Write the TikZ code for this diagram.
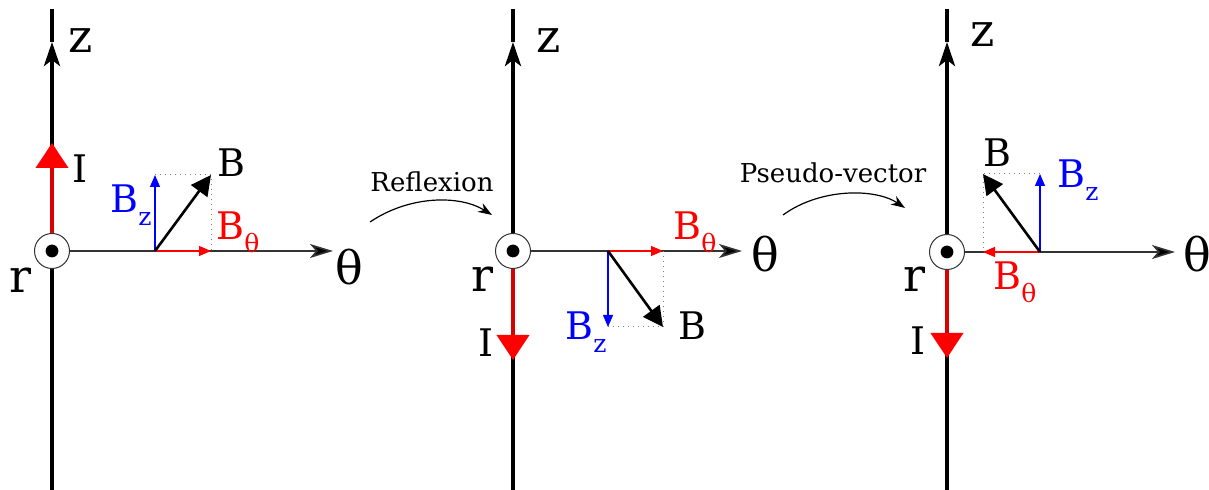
\documentclass[tikz,border=0pt]{standalone}
\usepackage{fontspec}
\setmainfont{DejaVu Serif}
\usepackage{xcolor}
\usepackage{tikz}
\usetikzlibrary{calc,arrows.meta,positioning}
\definecolor{redc}{HTML}{FF0000}
\definecolor{bluec}{HTML}{0000FF}
\definecolor{axgray}{HTML}{333333}
\newcommand{\lowsub}[1]{\raisebox{-0.32em}{\fontsize{12.5}{14}\selectfont #1}}
\tikzset{
  axis/.style={line width=2pt,black},
  zarr/.style={-{Stealth[length=12pt,width=8pt,inset=3pt]}},
  thaxis/.style={line width=0.8pt,axgray,-{Stealth[length=11.5pt,width=7pt,inset=3pt,fill=black]}},
  cur/.style={line width=2pt,redc!85!black,-{Triangle[length=12.5pt,width=16pt,fill=redc,color=redc]}},
  vecb/.style={line width=1.3pt,black,-{Triangle[length=10pt,width=10pt]}},
  comp/.style={line width=0.6pt,-{Triangle[length=6pt,width=5pt]}},
  guide/.style={dotted,gray,line width=0.5pt},
  wire/.style={circle,draw=axgray,line width=0.5pt,fill=white,minimum size=17.5pt,inner sep=0pt},
  bendar/.style={line width=0.6pt,-{Stealth[length=7pt,width=5pt]}},
  axlbl/.style={font=\fontsize{23}{26}\selectfont,anchor=base,inner sep=0pt},
  blbl/.style={font=\fontsize{19}{22}\selectfont,anchor=base west,inner sep=0pt},
  caplbl/.style={font=\fontsize{13}{15}\selectfont,anchor=base,inner sep=0pt}
}
\begin{document}
\begin{tikzpicture}[x=0.5pt,y=-0.5pt]
\useasboundingbox (0,0) rectangle (1209,490);
% ---- panel 1 : original
\node[wire] (o1) at (52,251) {};
\draw[axis] (o1.south) -- (52,490);
\draw[axis,zarr] (o1.north) -- (52,42);
\draw[axis] (52,42) -- (52,9);
\draw[cur] (o1.north) -- (52,143);
\fill (o1) circle[radius=3.2pt];
\draw[thaxis] (o1.east) -- (333,251);
\coordinate (p1) at (155,251); \coordinate (b1) at (211,175);
\coordinate (bz1) at (155,175); \coordinate (bt1) at (211,251);
\draw[guide] (bz1) -- (b1) -- (bt1);
\draw[comp,bluec] (p1) -- (bz1);
\draw[comp,redc] (p1) -- (bt1);
\draw[vecb] (p1) -- (b1);
\node[axlbl] (z1) at (81,53) {z};
\node[axlbl] (r1) at (20,293) {r};
\node[axlbl] (th1) at (349,285) {θ};
\node[blbl,anchor=base] (i1) at (80,183) {I};
\node[blbl] (lb1) at (217,177) {B};
\node[blbl,bluec] (lbz1) at (110,213) {B\lowsub{z}};
\node[blbl,redc] (lbt1) at (216,240) {B\lowsub{θ}};
% ---- reflexion arrow
\node[caplbl] (refl) at (432,192) {Reflexion};
\coordinate (rs) at (370,222); \coordinate (re) at (492,215);
\draw[bendar] (rs) .. controls (410,195) and (460,195) .. (re);
% ---- panel 2 : reflected
\node[wire] (o2) at (513,251) {};
\draw[axis] (o2.south) -- (513,490);
\draw[axis,zarr] (o2.north) -- (513,42);
\draw[axis] (513,42) -- (513,9);
\draw[cur] (o2.south) -- (513,360);
\fill (o2) circle[radius=3.2pt];
\draw[thaxis] (o2.east) -- (742,251);
\coordinate (p2) at (608,251); \coordinate (b2) at (663,327);
\coordinate (bz2) at (608,327); \coordinate (bt2) at (663,251);
\draw[guide] (bz2) -- (b2) -- (bt2);
\draw[comp,bluec] (p2) -- (bz2);
\draw[comp,redc] (p2) -- (bt2);
\draw[vecb] (p2) -- (b2);
\node[axlbl] (z2) at (549,53) {z};
\node[axlbl] (r2) at (482,292) {r};
\node[axlbl] (th2) at (765,272) {θ};
\node[blbl,anchor=base] (i2) at (486,357) {I};
\node[blbl] (lb2) at (678,340) {B};
\node[blbl,bluec] (lbz2) at (565,340) {B\lowsub{z}};
\node[blbl,redc] (lbt2) at (673,240) {B\lowsub{θ}};
% ---- pseudo-vector arrow
\node[caplbl] (pseu) at (833,183) {Pseudo-vector};
\coordinate (ps) at (783,215); \coordinate (pe) at (905,208);
\draw[bendar] (ps) .. controls (820,188) and (875,188) .. (pe);
% ---- panel 3 : pseudo-vector
\node[wire] (o3) at (947,252) {};
\draw[axis] (o3.south) -- (947,490);
\draw[axis,zarr] (o3.north) -- (947,42);
\draw[axis] (947,42) -- (947,9);
\draw[cur] (o3.south) -- (947,358);
\fill (o3) circle[radius=3.2pt];
\draw[thaxis] (o3.east) -- (1175,252);
\coordinate (p3) at (1040,252); \coordinate (b3) at (983,174);
\coordinate (bz3) at (1040,174); \coordinate (bt3) at (983,252);
\draw[guide] (bz3) -- (b3) -- (bt3);
\draw[comp,bluec] (p3) -- (bz3);
\draw[comp,redc] (p3) -- (bt3);
\draw[vecb] (p3) -- (b3);
\node[axlbl] (z3) at (983,47) {z};
\node[axlbl] (r3) at (914,292) {r};
\node[axlbl] (th3) at (1197,272) {θ};
\node[blbl,anchor=base] (i3) at (918,355) {I};
\node[blbl] (lb3) at (983,167) {B};
\node[blbl,bluec] (lbz3) at (1057,188) {B\lowsub{z}};
\node[blbl,redc] (lbt3) at (993,290) {B\lowsub{θ}};
\end{tikzpicture}
\end{document}
